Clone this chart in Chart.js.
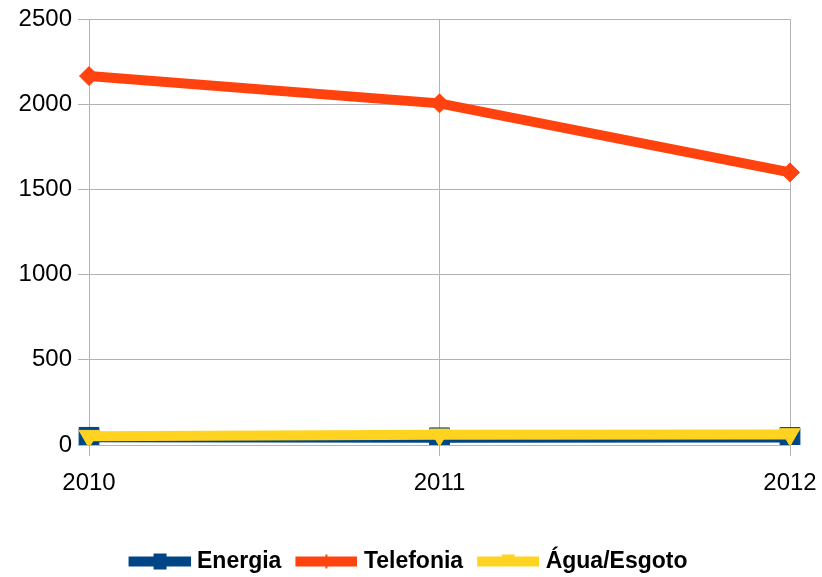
<!DOCTYPE html>
<html>
<head>
<meta charset="utf-8">
<script src="https://cdn.jsdelivr.net/npm/chart.js@4/dist/chart.umd.min.js"></script>
<style>
  html, body { margin: 0; padding: 0; background: #fff; }
  #wrap { width: 822px; height: 577px; }
</style>
</head>
<body>
<div id="wrap"><canvas id="grafico" width="822" height="577"></canvas></div>
<script>
var anos = ['2010', '2011', '2012'];
var energia = [45, 42, 44];
var telefonia = [2165, 2005, 1600];
var agua = [52, 60, 62];
var yTicks = [0, 500, 1000, 1500, 2000, 2500];

var azul = '#004586', laranja = '#ff420e', amarelo = '#ffd320';

// little legend pictures: a thick line with a small marker in the middle
function legendaImg(cor, tipo) {
   var c = document.createElement('canvas');
   c.width = 71; c.height = 20;
   var g = c.getContext('2d');
   g.fillStyle = cor;
   g.fillRect(9, 5, 62, 10);
   if (tipo === 'quadrado') {
      g.fillRect(34, 2, 13, 16);
   } else if (tipo === 'risco') {
      g.fillRect(39, 3, 2, 14);
   } else {
      g.beginPath();
      g.moveTo(33, 3); g.lineTo(47, 3); g.lineTo(40, 15); g.closePath();
      g.fill();
   }
   return c;
}
var imgs = [legendaImg(azul, 'quadrado'), legendaImg(laranja, 'risco'), legendaImg(amarelo, 'triangulo')];

// nudge the legend row a little to the right, as in the original
var empurraLegenda = {
   id: 'empurraLegenda',
   afterLayout: function (chart) {
      chart.legend.left += 11;
      chart.legend.right += 11;
   }
};

var ctx = document.getElementById('grafico').getContext('2d');
var grafico = new Chart(ctx, {
   type: 'line',
   data: {
      labels: anos,
      datasets: [{
         label: 'Energia',
         data: energia,
         borderColor: azul,
         backgroundColor: azul,
         borderWidth: 10,
         pointStyle: 'rect',
         pointRadius: 14,
         pointBorderWidth: 1,
         order: 2
      }, {
         label: 'Telefonia',
         data: telefonia,
         borderColor: laranja,
         backgroundColor: laranja,
         borderWidth: 10,
         pointStyle: 'rectRot',
         pointRadius: 9.5,
         pointBorderWidth: 1,
         order: 1
      }, {
         label: 'Água/Esgoto',
         data: agua,
         borderColor: amarelo,
         backgroundColor: amarelo,
         borderWidth: 10,
         pointStyle: 'triangle',
         pointRotation: 180,
         pointRadius: 11.5,
         pointBorderWidth: 1,
         order: 0
      }]
   },
   options: {
      responsive: false,
      animation: false,
      layout: { padding: { left: 0, right: 32, top: 19, bottom: -6 } },
      scales: {
         x: {
            offset: false,
            grid: { color: '#b3b3b3', tickLength: 11 },
            border: { color: '#b3b3b3' },
            ticks: { color: '#000', padding: 13, maxRotation: 0,
                     font: { family: 'Liberation Sans', size: 24 } },
            afterFit: function (s) {
               s.height = 95;
               s.paddingLeft = 0;
               s.paddingRight = 0;
            }
         },
         y: {
            min: 0,
            max: 2500,
            afterBuildTicks: function (s) { s.ticks = yTicks.map(function (v) { return { value: v }; }); },
            grid: { color: '#b3b3b3', tickLength: 11 },
            border: { color: '#b3b3b3' },
            ticks: { color: '#000', padding: 6,
                     callback: function (v) { return String(v); },
                     font: { family: 'Liberation Sans', size: 24 } },
            afterFit: function (s) {
               s.width = 89;
               s.paddingTop = 0;
               s.paddingBottom = 0;
            }
         }
      },
      plugins: {
         tooltip: { enabled: false },
         legend: {
            position: 'bottom',
            labels: {
               usePointStyle: true,
               pointStyleWidth: 61,
               padding: 10,
               color: '#000',
               font: { family: 'Liberation Sans', size: 23, weight: 'bold' },
               sort: function (a, b) { return a.datasetIndex - b.datasetIndex; },
               generateLabels: function (chart) {
                  var itens = Chart.defaults.plugins.legend.labels.generateLabels(chart);
                  itens.forEach(function (it) {
                     it.pointStyle = imgs[it.datasetIndex];
                     it.rotation = 0;
                  });
                  return itens;
               }
            }
         }
      }
   },
   plugins: [empurraLegenda]
});
</script>
</body>
</html>
